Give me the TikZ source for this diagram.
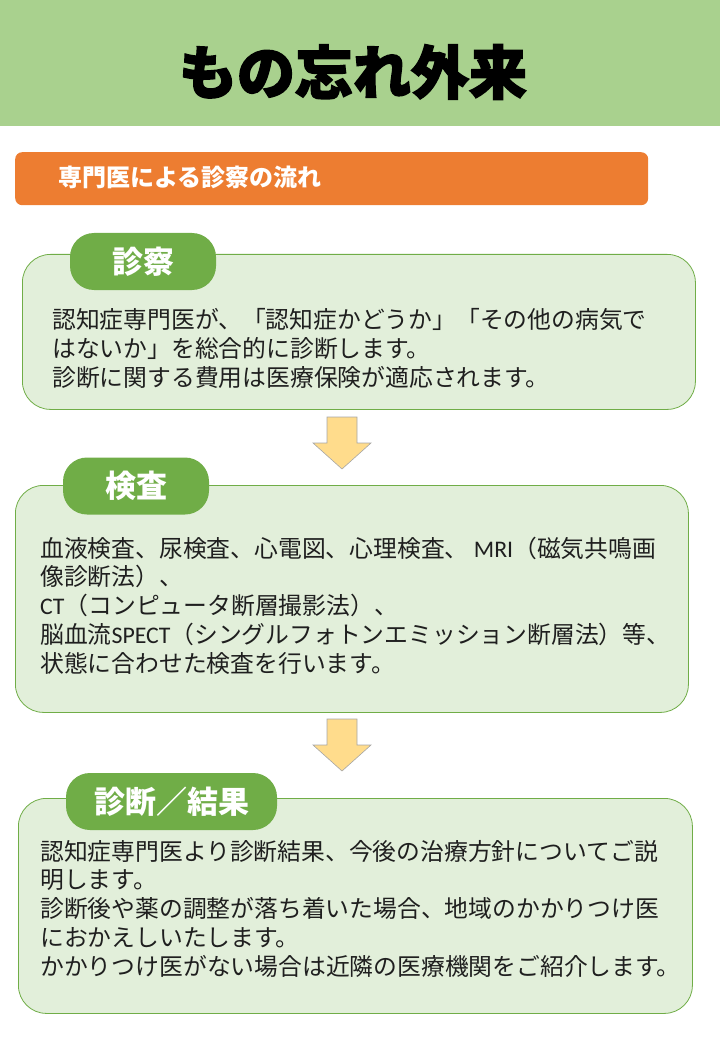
\documentclass[tikz,border=0pt]{standalone}
\usepackage{fontspec}
\newfontfamily\jpfont{Noto Sans CJK JP}
\newfontfamily\jptitle{Noto Sans CJK JP}[BoldFeatures={FakeBold=2.5}]
\newfontfamily\latinfont{Carlito}
\usetikzlibrary{positioning}
\definecolor{headergreen}{HTML}{A9D18E}
\definecolor{flowbar}{HTML}{ED7D31}
\definecolor{boxfill}{HTML}{E2EFDA}
\definecolor{tabgreen}{HTML}{70AD47}
\definecolor{arrowfill}{HTML}{FFDC8C}
\tikzset{
  stepbox/.style={draw=tabgreen, line width=0.8pt, fill=boxfill, rounded corners=28pt,
    anchor=north west, inner sep=0pt},
  tab/.style={fill=tabgreen, rounded corners=24pt, minimum height=57pt, inner sep=0pt,
    text=white, font=\jpfont\bfseries\fontsize{31}{31}\selectfont},
  bodytext/.style={anchor=base west, align=left, inner sep=0pt, text=black!88,
    font=\jpfont\fontsize{23.8}{28.7}\selectfont},
  downarrow/.style={fill=arrowfill, draw=black!35, line width=0.6pt},
}
\begin{document}
\begin{tikzpicture}[x=1pt,y=-1pt]
%\draw[very thin, gray] (0,0) grid[step=20] (720,1040);
\newcommand{\flowarrow}[1]{\draw[downarrow] (#1) ++(-15,0) -- ++(0,26) -- ++(-14,0)
  -- ++(29,26) -- ++(29,-26) -- ++(-14,0) -- ++(0,-26) -- cycle;}
\useasboundingbox (0,0) rectangle (720,1040);
\fill[headergreen] (0,0) rectangle (720,126);
\node[font=\jptitle\bfseries\fontsize{58}{58}\selectfont] (title) at (353,72) {もの忘れ外来};
\node[fill=flowbar, rounded corners=7pt, minimum width=633pt, minimum height=53pt,
  anchor=north west, inner sep=0pt] (flow) at (15,152) {};
\node[anchor=base west, inner sep=0pt, text=white,
  font=\jpfont\bfseries\fontsize{24}{24}\selectfont] (flowtext) at (58,187) {専門医による診察の流れ};
% 診察 (base = last line)
\node[stepbox, minimum width=673pt, minimum height=155pt] (shinsatsu) at (22,254) {};
\node[tab, minimum width=146pt] (shinsatsutab) at (143,261.5) {診察};
\node[bodytext] (shinsatsutext) at (52,386) {認知症専門医が、「認知症かどうか」「その他の病気で\\
はないか」を総合的に診断します。\\
診断に関する費用は医療保険が適応されます。};
\coordinate (arrowa) at (342,417);
\flowarrow{arrowa}
% 検査
\node[stepbox, minimum width=673pt, minimum height=227pt] (kensa) at (15,485) {};
\node[tab, minimum width=146pt] (kensatab) at (136,486) {検査};
\node[bodytext] (kensatext) at (40,672) {血液検査、尿検査、心電図、心理検査、 {\latinfont MRI}（磁気共鳴画\\
像診断法）、\\
{\latinfont CT}（コンピュータ断層撮影法）、\\
脳血流{\latinfont SPECT}（シングルフォトンエミッション断層法）等、\\
状態に合わせた検査を行います。};
\coordinate (arrowb) at (342,719);
\flowarrow{arrowb}
% 診断／結果
\node[stepbox, minimum width=674pt, minimum height=215pt] (kekka) at (18,798) {};
\node[tab, minimum width=211pt] (kekkatab) at (171.5,801.5) {診断／結果};
\node[bodytext] (kekkatext) at (40,975) {認知症専門医より診断結果、今後の治療方針についてご説\\
明します。\\
診断後や薬の調整が落ち着いた場合、地域のかかりつけ医\\
におかえしいたします。\\
かかりつけ医がない場合は近隣の医療機関をご紹介します。};
\end{tikzpicture}
\end{document}
